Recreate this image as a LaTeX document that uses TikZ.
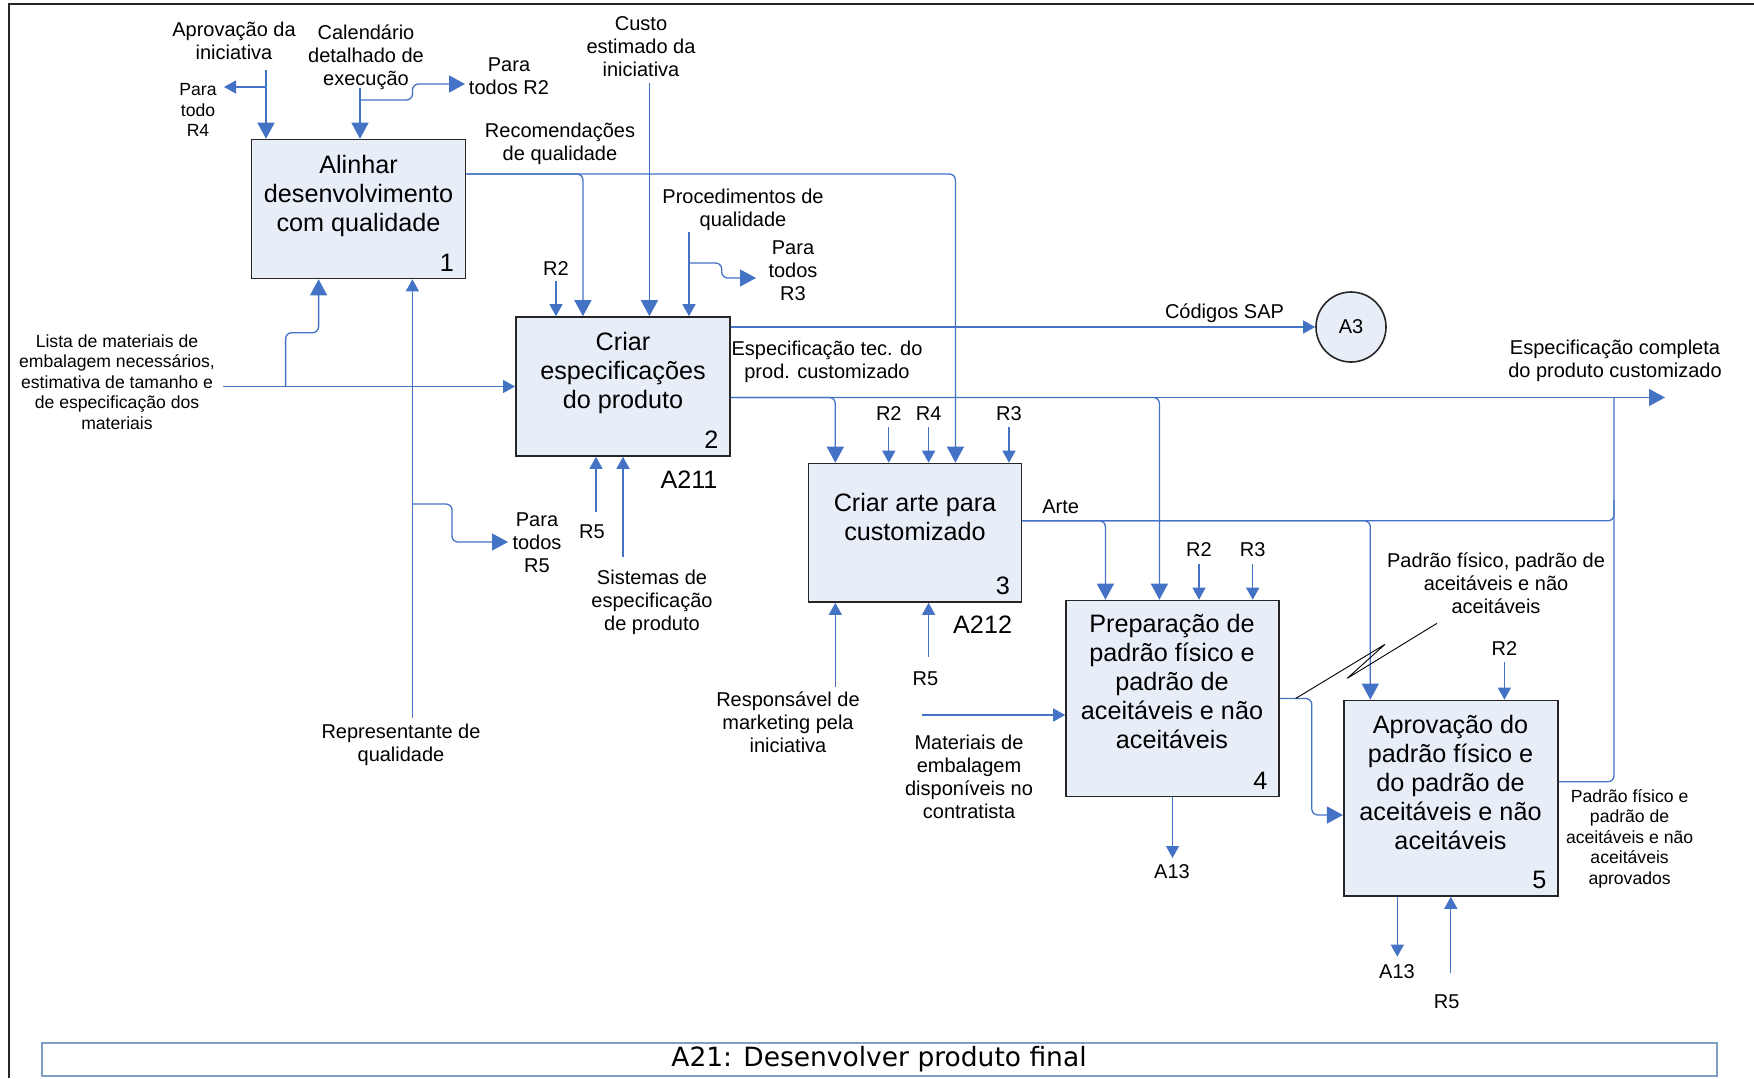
\documentclass[tikz,border=0pt]{standalone}
\usepackage{fontspec}
\setmainfont{Liberation Sans}
\newfontfamily\titlefont{DejaVu Sans}
\usetikzlibrary{arrows.meta}
\definecolor{flowblue}{RGB}{68,114,196}
\definecolor{boxfill}{RGB}{232,238,248}
\definecolor{titleblue}{RGB}{127,159,199}

\begin{document}
% multi-line texts are placed by the baseline of their last line
\begin{tikzpicture}[x=0.5pt,y=-0.5pt,
  flow/.style={draw=flowblue, line width=0.65pt, rounded corners=3pt},
  bigarr/.style={-{Triangle[length=8pt,width=8.5pt]}},
  smallarr/.style={-{Triangle[length=6pt,width=6.5pt]}},
  actbox/.style={draw=black!85, line width=0.8pt, fill=boxfill, inner sep=0pt},
  boxtext/.style={font=\fontsize{12.6}{14.5}\selectfont, align=center, inner sep=0pt, anchor=base},
  lbl/.style={font=\fontsize{10}{11.5}\selectfont, align=center, inner sep=0pt, anchor=base},
  smalllbl/.style={font=\fontsize{8.8}{10.25}\selectfont, align=center, inner sep=0pt, anchor=base},
  num/.style={font=\fontsize{12.6}{14.5}\selectfont, inner sep=0pt, anchor=base east},
]
\useasboundingbox (0,0) rectangle (1754,1078);

% sheet frame
\draw[black!85, line width=0.85pt] (9,1078) -- (9,4.3) -- (1754,4.3);

% activity boxes
\node[actbox, minimum width=107pt,   minimum height=69.5pt]  (b1) at (358.5,209) {};
\node[actbox, minimum width=107.1pt, minimum height=69.5pt]  (b2) at (622.9,386.5) {};
\node[actbox, minimum width=106.5pt, minimum height=69.25pt] (b3) at (915,532.75) {};
\node[actbox, minimum width=106.5pt, minimum height=98pt]    (b4) at (1172.5,698.5) {};
\node[actbox, minimum width=107.15pt,minimum height=97.75pt] (b5) at (1450.9,798.2) {};
\node[draw=black!85, line width=0.8pt, fill=boxfill, circle, minimum size=35pt, inner sep=0pt,
      font=\fontsize{10}{11.5}\selectfont] (a3) at (1351,327) {A3};

\node[boxtext] (t1) at (358.5,231.5) {Alinhar\\desenvolvimento\\com qualidade};
\node[boxtext] (t2) at (623,408.5) {Criar\\especificações\\do produto};
\node[boxtext] (t3) at (915,540.5) {Criar arte para\\customizado};
\node[boxtext] (t4) at (1172,748) {Preparação de\\padrão físico e\\padrão de\\aceitáveis e não\\aceitáveis};
\node[boxtext] (t5) at (1450.5,849) {Aprovação do\\padrão físico e\\do padrão de\\aceitáveis e não\\aceitáveis};

\node[num] (n1) at ([xshift=-6pt,yshift=4pt]b1.south east) {1};
\node[num] (n2) at ([xshift=-6pt,yshift=4pt]b2.south east) {2};
\node[num] (n3) at ([xshift=-6pt,yshift=4pt]b3.south east) {3};
\node[num] (n4) at ([xshift=-6pt,yshift=4pt]b4.south east) {4};
\node[num] (n5) at ([xshift=-6pt,yshift=4pt]b5.south east) {5};

\node[boxtext] (a211) at (689,488) {A211};
\node[boxtext] (a212) at (982.6,633) {A212};

% controls of box 1
\node[lbl] (l-apr) at (234,59) {Aprovação da\\iniciativa};
\coordinate (apr) at (266,70);
\coordinate (aprj) at (266,87);
\coordinate (r4tip) at (224,87);
\draw[flow,bigarr] (apr) -- (apr |- b1.north);
\draw[flow,smallarr] (aprj) -- (r4tip);
\node[smalllbl] (l-r4) at (198,136.7) {Para\\todo\\R4};

\node[lbl] (l-cal) at (366,85) {Calendário\\detalhado de\\execução};
\coordinate (cal) at (360,88);
\coordinate (calj) at (360,100);
\coordinate (r2tip) at (465,84);
\draw[flow,bigarr] (cal) -- (cal |- b1.north);
\draw[flow,bigarr] (calj) -- (412.5,100) -- (412.5,84) -- (r2tip);
\node[lbl] (l-r2) at (509,94) {Para\\todos R2};

% output of box 1
\node[lbl] (l-rec) at (560,160) {Recomendações\\de qualidade};
\draw[flow,bigarr] ([yshift=17.5pt]b1.east) -| ([xshift=-20pt]b2.north);
\draw[flow,bigarr] ([yshift=17.5pt]b1.east) -| ([xshift=20.2pt]b3.north);

% controls of box 2
\node[lbl] (l-custo) at (641,76) {Custo\\estimado da\\iniciativa};
\coordinate (custo) at (649.4,83);
\draw[flow,bigarr] (custo) -- (custo |- b2.north);

\node[lbl] (l-proc) at (743,226) {Procedimentos de\\qualidade};
\coordinate (proc) at (689,232);
\coordinate (procj) at (689,263);
\coordinate (r3tip) at (756,278);
\draw[flow,smallarr] (proc) -- (proc |- b2.north);
\draw[flow,bigarr] (procj) -- (721.7,263) -- (721.7,278) -- (r3tip);
\node[lbl] (l-r3) at (793,300) {Para\\todos\\R3};

\node[lbl] (l-b2r2) at (556,275) {R2};
\coordinate (b2r2) at (556,281);
\draw[flow,smallarr] (b2r2) -- (b2r2 |- b2.north);

% input of boxes 1 and 2
\node[smalllbl] (l-lista) at (117,429) {Lista de materiais de\\embalagem necessários,\\estimativa de tamanho e\\de especificação dos\\materiais};
\coordinate (lista) at (223.4,386.5);
\coordinate (listaj) at (285.6,386.5);
\coordinate (listab) at (318.6,332.7);
\draw[flow,smallarr] (lista) -- (lista -| b2.west);
\draw[flow,bigarr] (listaj) |- (listab) -- (listab |- b1.south);

% mechanism of box 1
\node[lbl] (l-rep) at (401,761) {Representante de\\qualidade};
\coordinate (rep) at (412.4,718);
\coordinate (repj) at (412.4,504);
\coordinate (r5tip) at (508,542);
\draw[flow,smallarr] (rep) -- (rep |- b1.south);
\draw[flow,bigarr] (repj) -- (452,504) -- (452,542) -- (r5tip);
\node[lbl] (l-r5) at (537,572) {Para\\todos\\R5};

% mechanisms of box 2
\node[lbl] (l-b2r5) at (592,538) {R5};
\coordinate (b2r5) at (596,512);
\draw[flow,smallarr] (b2r5) -- (b2r5 |- b2.south);
\node[lbl] (l-sis) at (652,630) {Sistemas de\\especificação\\de produto};
\coordinate (sis) at (623,557);
\draw[flow,smallarr] (sis) -- (sis |- b2.south);

% outputs of box 2
\draw[flow,smallarr] (a3.west -| b2.east) -- (a3.west);
\node[lbl] (l-sap) at (1224.5,318) {Códigos SAP};

\coordinate (specout) at (1665,397.5);
\draw[flow,bigarr] ([yshift=-5.5pt]b2.east) -- (specout);
\draw[flow,bigarr] ([yshift=-5.5pt]b2.east) -| ([xshift=-39.85pt]b3.north);
\draw[flow,bigarr] ([yshift=-5.5pt]b2.east) -| ([xshift=-6.55pt]b4.north);
\node[lbl] (l-spec) at (827,378) {Especificação tec. do\\prod. customizado};
\node[lbl] (l-specfin) at (1615,377) {Especificação completa\\do produto customizado};

% controls of box 3
\node[lbl] (l-b3r2) at (888.8,420.7) {R2};
\node[lbl] (l-b3r4) at (928.6,420.7) {R4};
\node[lbl] (l-b3r3) at (1009,420.7) {R3};
\coordinate (b3r2) at (888.8,427);
\coordinate (b3r4) at (928.6,427);
\coordinate (b3r3) at (1009,427);
\draw[flow,smallarr] (b3r2) -- (b3r2 |- b3.north);
\draw[flow,smallarr] (b3r4) -- (b3r4 |- b3.north);
\draw[flow,smallarr] (b3r3) -- (b3r3 |- b3.north);

% mechanisms of box 3
\coordinate (resp) at (835.3,687);
\draw[flow,smallarr] (resp) -- (resp |- b3.south);
\node[lbl] (l-resp) at (788,752) {Responsável de\\marketing pela\\iniciativa};
\coordinate (b3r5) at (928.6,657);
\draw[flow,smallarr] (b3r5) -- (b3r5 |- b3.south);
\node[lbl] (l-b3r5) at (925.4,685) {R5};

% output of box 3
\coordinate (fbup) at (1614,500);
\draw[flow,bigarr] ([yshift=6pt]b3.east) -| ([xshift=-33.55pt]b4.north);
\draw[flow,bigarr] ([yshift=6pt]b3.east) -| ([xshift=-40.3pt]b5.north);
\draw[flow] ([yshift=6pt]b3.east) -| (fbup);
\node[lbl] (l-arte) at (1060.7,513) {Arte};

% box 4
\node[lbl] (l-b4r2) at (1199,556.7) {R2};
\node[lbl] (l-b4r3) at (1252.7,556.7) {R3};
\coordinate (b4r2) at (1199,564);
\coordinate (b4r3) at (1252.7,564);
\draw[flow,smallarr] (b4r2) -- (b4r2 |- b4.north);
\draw[flow,smallarr] (b4r3) -- (b4r3 |- b4.north);

\coordinate (mat) at (922.3,715);
\draw[flow,smallarr] (mat) -- (mat -| b4.west);
\node[lbl] (l-mat) at (969,818) {Materiais de\\embalagem\\disponíveis no\\contratista};

\coordinate (a13a) at (1172.5,858);
\draw[flow,smallarr] (b4.south) -- (a13a);
\node[lbl] (l-a13a) at (1172,878) {A13};

\draw[flow,bigarr] (b4.east) -- (1311.8,698.5) |- ([yshift=-8.4pt]b5.west);

% squiggle tying the label to the arrow
\coordinate (sq0) at (1295.6,698.5);
\coordinate (sq1) at (1385,644.3);
\coordinate (sq2) at (1347.2,678.3);
\coordinate (sq3) at (1437,623.3);
\draw[black, line width=0.45pt] (sq0) -- (sq1) -- (sq2) -- (sq3);
\node[lbl] (l-pad) at (1496,613) {Padrão físico, padrão de\\aceitáveis e não\\aceitáveis};

% box 5
\node[lbl] (l-b5r2) at (1504.4,655) {R2};
\coordinate (b5r2) at (1504.4,661.7);
\draw[flow,smallarr] (b5r2) -- (b5r2 |- b5.north);

\coordinate (a13b) at (1397.3,956.7);
\draw[flow,smallarr] (b5.south -| a13b) -- (a13b);
\node[lbl] (l-a13b) at (1397,978) {A13};

\coordinate (b5r5) at (1450.8,972.7);
\draw[flow,smallarr] (b5r5) -- (b5r5 |- b5.south);
\node[lbl] (l-b5r5) at (1446.6,1008) {R5};

\coordinate (fbtop) at (1614,397.5);
\draw[flow] ([yshift=8.25pt]b5.east) -| (fbtop);
\node[smalllbl] (l-apv) at (1629.6,884.3) {Padrão físico e\\padrão de\\aceitáveis e não\\aceitáveis\\aprovados};

% title strip
\node[draw=titleblue, line width=1pt, minimum width=837.8pt, minimum height=16.35pt, inner sep=0pt]
  (title) at (879.5,1059.65) {};
\node[font=\titlefont\fontsize{13.25}{15}\selectfont, anchor=base, inner sep=0pt]
  (title-t) at (879,1066.7) {A21: Desenvolver produto final};
\end{tikzpicture}
\end{document}
